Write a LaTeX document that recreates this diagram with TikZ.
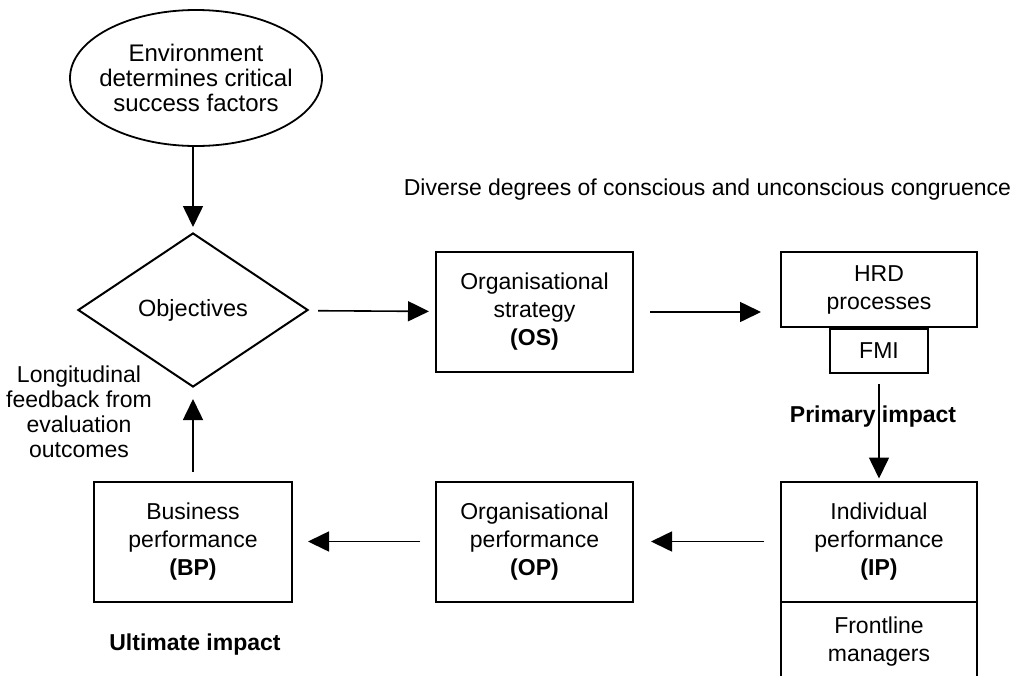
\documentclass[tikz,border=0pt]{standalone}
\usepackage{fontspec}
\setmainfont{Liberation Sans}
\usepackage{tikz}
\usetikzlibrary{arrows.meta,shapes.geometric,positioning}
\definecolor{cLine}{HTML}{000000}
\tikzset{
  >={Triangle[length=21pt,width=20pt]},
  box/.style    ={draw=cLine,line width=2pt,rectangle,inner sep=0pt,align=center,
                  font=\fontsize{23}{28}\selectfont},
  oval/.style   ={draw=cLine,line width=1.8pt,ellipse,inner xsep=-20pt,inner ysep=0pt,
                  align=center,font=\fontsize{24}{25}\selectfont},
  rhomb/.style  ={draw=cLine,line width=2pt,diamond,inner sep=0pt,
                  font=\fontsize{23.5}{28}\selectfont},
  conn/.style   ={->,line width=1.6pt,cLine},
  note/.style   ={align=center,font=\fontsize{23}{25}\selectfont},
  bnote/.style  ={align=center,font=\fontsize{23}{28}\selectfont\bfseries},
}
\begin{document}
\begin{tikzpicture}[x=1pt,y=-1pt]
  \clip (0,0) rectangle (1014,675);
  \fill[white] (0,0) rectangle (1014,675);
  \node[oval,minimum width=252,minimum height=136] (env) at (196,78)
    {Environment\\determines critical\\success factors};
  \node[rhomb,minimum width=230,minimum height=154] (obj) at (193,310) {Objectives};
  \node[box,minimum width=197,minimum height=120] (os) at (534.5,312)
    {Organisational\\strategy\\\textbf{(OS)}};
  \node[box,minimum width=196,minimum height=75] (hrd) at (879,289.5) {HRD\\processes};
  \node[box,minimum width=98,minimum height=44,below=0pt of hrd] (fmi) {FMI};
  \node[box,minimum width=196,minimum height=120] (ip) at (879,541.5)
    {Individual\\performance\\\textbf{(IP)}};
  \node[box,minimum width=196,minimum height=80,below=-2pt of ip] (flm) {Frontline\\managers};
  \node[box,minimum width=197,minimum height=120] (op) at (534.5,541.5)
    {Organisational\\performance\\\textbf{(OP)}};
  \node[box,minimum width=198,minimum height=120] (bp) at (193,541.5)
    {Business\\performance\\\textbf{(BP)}};
  \node[note] (div) at (707.5,190) {Diverse degrees of conscious and unconscious congruence};
  \node[note] (fb) at (79,412) {Longitudinal\\feedback from\\evaluation\\outcomes};
  \node[bnote] (prim) at (873,417) {Primary impact};
  \node[bnote] (ult) at (195,645) {Ultimate impact};

  \draw[conn,shorten >=5pt] (env.south -| obj.north) -- (obj.north);
  \draw[conn,shorten <=10pt,shorten >=6pt] (obj) -- (os);
  \draw[conn,shorten <=16pt,shorten >=19pt] (os.east) -- (os.east -| hrd.west);
  \draw[conn,shorten <=10pt,shorten >=2pt] (fmi.south -| prim) ++(6,0) coordinate (fs) (fs) -- (fs |- ip.north);
  \draw[conn,shorten <=16pt,shorten >=17pt] (ip) -- (op);
  \draw[conn,shorten <=15pt,shorten >=15pt] (op) -- (bp);
  \draw[conn,shorten <=9pt,shorten >=11pt] (bp) -- (obj);
\end{tikzpicture}
\end{document}
